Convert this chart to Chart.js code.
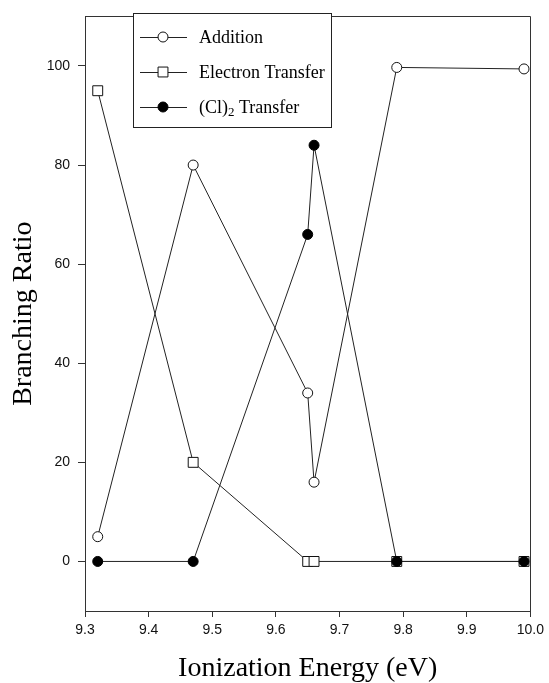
<!DOCTYPE html>
<html>
<head>
<meta charset="utf-8">
<script src="https://cdn.jsdelivr.net/npm/chart.js@4/dist/chart.umd.min.js"></script>
<style>
  body { margin: 0; background: #fff; }
  canvas { display: block; }
</style>
</head>
<body>
<canvas id="branchChart" width="549" height="683"></canvas>
<script>
// values
const energy = [9.32, 9.47, 9.65, 9.66, 9.79, 9.99];
const addition = [5, 80, 34, 16, 99.7, 99.4];
const electronTransfer = [95, 20, 0, 0, 0, 0];
const cl2Transfer = [0, 0, 66, 84, 0, 0];

const xTicks = [9.3, 9.4, 9.5, 9.6, 9.7, 9.8, 9.9, 10.0];
const yTicks = [0, 20, 40, 60, 80, 100];

const seriesNames = ['Addition', 'Electron Transfer', '(Cl)₂ Transfer'];

const pts = vals => energy.map((e, i) => ({ x: e, y: vals[i] }));

// box around the plot + boxed legend in the upper left
const frameLegend = {
    id: 'frameLegend',
    afterDraw(chart) {
        const c = chart.ctx;
        const a = chart.chartArea;
        c.save();
        c.strokeStyle = '#333';
        c.lineWidth = 1;
        c.beginPath();
        c.moveTo(Math.round(a.left) + 0.5, Math.round(a.top) + 0.5);
        c.lineTo(Math.round(a.right) + 0.5, Math.round(a.top) + 0.5);
        c.lineTo(Math.round(a.right) + 0.5, Math.round(a.bottom) + 0.5);
        c.stroke();

        // legend box
        const bx = 133, by = 13, bw = 198, bh = 114;
        c.fillStyle = '#fff';
        c.fillRect(bx, by, bw, bh);
        c.strokeStyle = '#222';
        c.strokeRect(bx + 0.5, by + 0.5, bw, bh);

        const rows = [37, 72, 107];
        const legendOrder = [0, 1, 2];
        legendOrder.forEach((di, r) => {
            const ds = chart.data.datasets[di];
            const y = rows[r];
            c.strokeStyle = '#222';
            c.lineWidth = 1;
            c.beginPath();
            c.moveTo(140, y + 0.5);
            c.lineTo(187, y + 0.5);
            c.stroke();
            c.fillStyle = ds.pointBackgroundColor;
            c.strokeStyle = ds.pointBorderColor;
            c.lineWidth = 1;
            Chart.helpers.drawPoint(c, {
                pointStyle: ds.pointStyle,
                radius: ds.pointRadius,
                borderWidth: 1,
                rotation: 0
            }, 163, y);

            // label text, with subscript digits
            c.fillStyle = '#000';
            c.textBaseline = 'middle';
            c.textAlign = 'left';
            let x = 199;
            const parts = ds.label.split(/(₂)/);
            parts.forEach(p => {
                if (p === '₂') {
                    c.font = '13px "Liberation Serif"';
                    c.fillText('2', x, y + 6);
                    x += c.measureText('2').width;
                } else if (p) {
                    c.font = '18px "Liberation Serif"';
                    c.fillText(p, x, y + 1);
                    x += c.measureText(p).width;
                }
            });
        });
        c.restore();
    }
};

const ctx = document.getElementById('branchChart').getContext('2d');
const branchChart = new Chart(ctx, {
    type: 'line',
    data: {
        datasets: [{
            label: seriesNames[0],
            data: pts(addition),
            pointStyle: 'circle',
            pointRadius: 5,
            pointBackgroundColor: '#fff',
            pointBorderColor: '#111',
            order: 0
        }, {
            label: seriesNames[1],
            data: pts(electronTransfer),
            pointStyle: 'rect',
            pointRadius: 7,
            pointBackgroundColor: '#fff',
            pointBorderColor: '#111',
            order: 2
        }, {
            label: seriesNames[2],
            data: pts(cl2Transfer),
            pointStyle: 'circle',
            pointRadius: 5,
            pointBackgroundColor: '#000',
            pointBorderColor: '#000',
            order: 1
        }].map(d => Object.assign({
            borderColor: '#222',
            borderWidth: 1,
            pointBorderWidth: 1,
            pointHoverRadius: 5,
            tension: 0,
            fill: false,
            clip: false
        }, d))
    },
    options: {
        responsive: false,
        animation: false,
        devicePixelRatio: 1,
        layout: { padding: { top: 11, right: 15, left: 0, bottom: 0 } },
        plugins: {
            legend: { display: false },
            tooltip: { enabled: false }
        },
        scales: {
            x: {
                type: 'linear',
                min: 9.3,
                max: 10.0,
                afterBuildTicks: s => { s.ticks = xTicks.map(v => ({ value: v })); },
                afterFit: s => { s.height = 72; },
                border: { color: '#333', width: 1 },
                grid: { drawOnChartArea: false, tickLength: 6, color: '#333' },
                ticks: {
                    color: '#111',
                    padding: 5,
                    maxRotation: 0,
                    font: { family: '"Liberation Sans", Arial', size: 14 },
                    callback: v => v.toFixed(1)
                },
                title: {
                    display: true,
                    text: 'Ionization Energy (eV)',
                    color: '#000',
                    padding: { top: 0, bottom: 0 },
                    font: { family: '"Liberation Serif", "Times New Roman"', size: 28, lineHeight: 1 }
                }
            },
            y: {
                min: -10,
                max: 110,
                afterBuildTicks: s => { s.ticks = yTicks.map(v => ({ value: v })); },
                afterFit: s => { s.width = 85; },
                border: { color: '#333', width: 1 },
                grid: { drawOnChartArea: false, tickLength: 7, color: '#333' },
                ticks: {
                    color: '#111',
                    padding: 8,
                    font: { family: '"Liberation Sans", Arial', size: 14 }
                },
                title: {
                    display: true,
                    text: 'Branching Ratio',
                    color: '#000',
                    padding: { top: 10, bottom: 0 },
                    font: { family: '"Liberation Serif", "Times New Roman"', size: 28, lineHeight: 1 }
                }
            }
        }
    },
    plugins: [frameLegend]
});
</script>
</body>
</html>
